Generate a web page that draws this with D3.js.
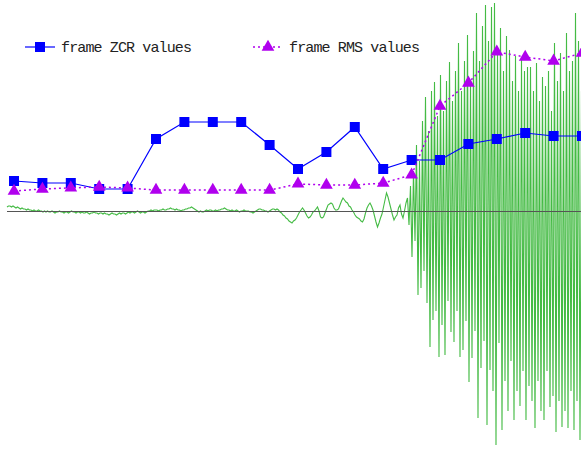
<!DOCTYPE html>
<html>
  <head>
    <meta charset="utf-8">
    <title>frame ZCR / RMS</title>
    <script src="https://d3js.org/d3.v7.min.js"></script>
    <style>
      body { margin: 0; background: #fff; }
    </style>
  </head>
  <body>
  <script>

    var width = 581;
    var height = 450;

    // one value per frame
    var frames = d3.range(21);
    var zcrValues = [30, 28, 28, 22, 22, 72, 89, 89, 89, 66, 42, 59, 84, 42, 51, 51, 67, 72, 78, 75, 75];
    var rmsValues = [0.091, 0.100, 0.105, 0.109, 0.105, 0.095, 0.095, 0.095, 0.095, 0.095, 0.123,
                     0.118, 0.118, 0.127, 0.164, 0.477, 0.582, 0.723, 0.700, 0.682, 0.718];

    // waveform samples (quiet part, then loud part)
    var waveQuiet = [
       4, 5, 5, 4, 5, 4, 3, 4, 3, 2, 3, 2, 2, 1, 2, 1, 1, 0, 1, 0,
       0, 1, 0, 0, -1, 0, -1, 0, -1, -1, 0, -1, -2, -1, -1, 0, -1, -1, -2, -1,
       -1, -2, -1, 0, -1, -1, -2, -1, -1, -2, -1, -2, -2, -1, -2, -3, -2, -2, -1, -2,
       -2, -3, -2, -2, -3, -2, -3, -3, -4, -3, -2, -3, -3, -4, -3, -2, -3, -2, -2, -3,
       -2, -1, -2, -1, -1, -2, -1, 0, -1, -2, -1, -1, -2, -1, 0, 0, 1, 0, 1, 1,
       1, 0, 1, 1, 2, 1, 1, 2, 2, 3, 2, 2, 1, 2, 1, 1, 0, 1, 1, 2,
       2, 3, 3, 4, 3, 2, 1, 0, -1, 0, -1, -1, 0, 1, 0, 1, 1, 0, 0, 1,
       0, 1, 1, 2, 2, 3, 2, 1, 1, 0, 1, 0, 0, 1, 0, -1, 0, 0, 1, 0,
       0, 0, -1, -1, -2, -1, 0, 1, 2, 2, 1, 1, 0, 0, -1, 0, 1, 2, 2, 1,
       2, 1, -1, -2, -4, -5, -7, -8, -10, -11, -12, -10, -9, -7, -4, -1, 1, 3, 1, -2,
       -5, -7, -6, -4, -1, 0, 2, 4, 0, -6, -7, -6, -2, 2, 6, 7, 8, 7, 3, 1,
       1, 2, 6, 10, 13, 11, 9, 8, 5, 4, 1, -1, -4, -6, -7, -8, -10, -11, -8, -2,
       3, 6, 8, 5, 1, -5, -11, -16, -12, -7, -3, 4, 11, 18, 14, 8, 2, -4, -9, -6,
       -4, 3, 6, -3, -7, 0, 8, 13, -14
    ];
    var waveLoud = [
       25, -46, 40, -30, 66, -84, 50, -77, 90, -60, 114, -92, 80, -136, 120, -109, 129, -100, 95, -146,
       136, -114, 100, -144, 130, -90, 149, -121, 110, -131, 140, -100, 168, -146, 120, -139, 150, -110, 176, -171,
       130, -147, 160, -120, 198, -207, 150, -157, 185, -130, 206, -214, 170, -159, 204, -180, 208, -234, 160, -132,
       183, -219, 140, -170, 175, -200, 161, -150, 130, -209, 155, -180, 120, -195, 151, -160, 140, -209, 144, -175,
       144, -190, 120, -217, 148, -170, 110, -200, 134, -209, 125, -160, 140, -196, 100, -185, 168, -221, 130, -190,
       158, -216, 120, -200, 178, -217, 140, -180, 150, -219, 198, -190, 170, -229, 120
    ];
    var wave = waveQuiet.concat(waveLoud);

    var legendLabels = ['frame ZCR values', 'frame RMS values'];

    var zcrColor = '#0000ff';
    var rmsColor = '#b000ee';
    var waveColor = '#44bb44';

    var svg = d3.select('body')
      .append('svg')
      .attr('width', width)
      .attr('height', height);

    var baseY = 211;

    var x = d3.scaleLinear().domain([0, 20]).range([14, 582]);
    var xWave = d3.scaleLinear().domain([0, wave.length - 1]).range([7, 7 + 1.5 * (wave.length - 1)]);
    var yWave = d3.scaleLinear().domain([-220, 220]).range([baseY + 220, baseY - 220]);
    var yZcr = d3.scaleLinear().domain([0, 100]).range([baseY, baseY - 100]);
    var yRms = d3.scaleLinear().domain([0, 1]).range([baseY, baseY - 220]);

    // waveform
    svg.append('path')
      .datum(wave)
      .attr('fill', 'none')
      .attr('stroke', waveColor)
      .attr('stroke-width', 1.1)
      .attr('d', d3.line()
        .x(function(d, i) { return xWave(i); })
        .y(function(d) { return yWave(d); }));

    // zero line
    svg.append('line')
      .attr('x1', xWave(0)).attr('x2', width)
      .attr('y1', baseY + 0.5).attr('y2', baseY + 0.5)
      .attr('stroke', '#555')
      .attr('stroke-width', 1);

    // ZCR
    svg.append('path')
      .datum(frames)
      .attr('fill', 'none')
      .attr('stroke', zcrColor)
      .attr('stroke-width', 1.2)
      .attr('d', d3.line()
        .x(function(d) { return x(d); })
        .y(function(d) { return yZcr(zcrValues[d]); }));

    svg.selectAll('.zcr')
      .data(frames)
      .enter().append('path')
      .attr('class', 'zcr')
      .attr('transform', function(d) { return 'translate(' + x(d) + ',' + yZcr(zcrValues[d]) + ')'; })
      .attr('d', d3.symbol(d3.symbolSquare, 100))
      .attr('fill', zcrColor);

    // RMS
    svg.append('path')
      .datum(frames)
      .attr('fill', 'none')
      .attr('stroke', rmsColor)
      .attr('stroke-width', 1.5)
      .attr('stroke-dasharray', '2,3')
      .attr('d', d3.line()
        .x(function(d) { return x(d); })
        .y(function(d) { return yRms(rmsValues[d]); }));

    svg.selectAll('.rms')
      .data(frames)
      .enter().append('path')
      .attr('class', 'rms')
      .attr('transform', function(d) { return 'translate(' + x(d) + ',' + yRms(rmsValues[d]) + ')'; })
      .attr('d', d3.symbol(d3.symbolTriangle, 70))
      .attr('fill', rmsColor);

    // legend
    var lg = svg.append('g').attr('transform', 'translate(0,47)');
    lg.append('line').attr('x1', 25).attr('x2', 55).attr('y1', 0).attr('y2', 0)
      .attr('stroke', zcrColor).attr('stroke-width', 1.2);
    lg.append('path').attr('transform', 'translate(40,0)')
      .attr('d', d3.symbol(d3.symbolSquare, 100)).attr('fill', zcrColor);
    lg.append('line').attr('x1', 253).attr('x2', 282).attr('y1', 0).attr('y2', 0)
      .attr('stroke', rmsColor).attr('stroke-width', 1.5).attr('stroke-dasharray', '2,3');
    lg.append('path').attr('transform', 'translate(268,0)')
      .attr('d', d3.symbol(d3.symbolTriangle, 70)).attr('fill', rmsColor);

    lg.selectAll('text')
      .data(legendLabels)
      .enter().append('text')
      .attr('x', function(d, i) { return i === 0 ? 61 : 289; })
      .attr('y', 5)
      .attr('textLength', 131)
      .style('font-family', '"Liberation Mono", "DejaVu Sans Mono", monospace')
      .style('font-size', '15px')
      .style('fill', '#222')
      .text(function(d) { return d; });

  </script>
  </body>
</html>
